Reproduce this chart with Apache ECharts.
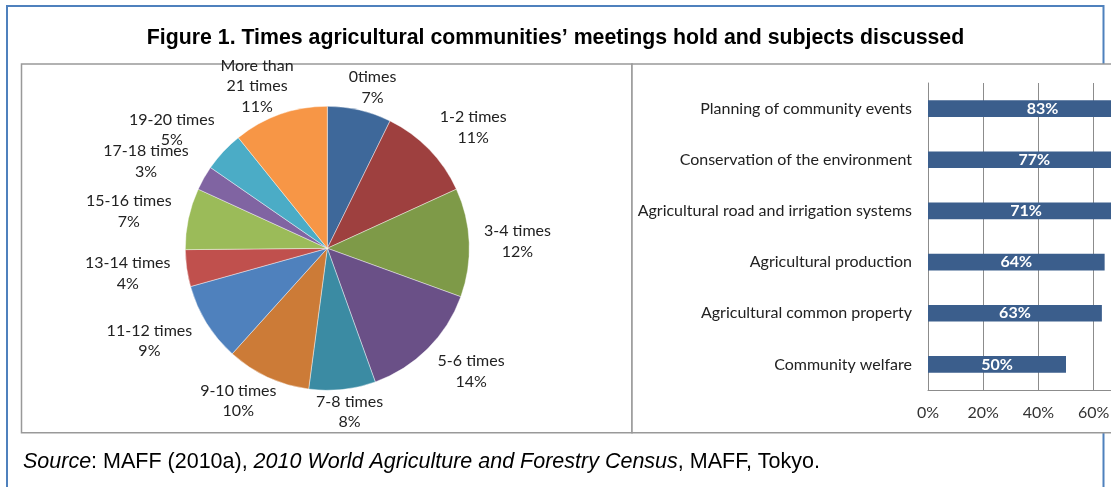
<!DOCTYPE html>
<html>
<head>
<meta charset="utf-8">
<script src="https://cdn.jsdelivr.net/npm/echarts@6/dist/echarts.min.js"></script>
<style>
html,body{margin:0;padding:0;background:#fff;}
#chart{width:1111px;height:487px;}
</style>
</head>
<body>
<div id="chart"></div>
<script>
// ---- data ----
const pieCategories = ['0times', '1-2 times', '3-4 times', '5-6 times', '7-8 times', '9-10 times',
  '11-12 times', '13-14 times', '15-16 times', '17-18 times', '19-20 times', 'More than\n21 times'];
const pieValues = [7.3, 10.9, 12.4, 14.0, 7.6, 9.6, 9.0, 4.2, 7.0, 2.8, 4.6, 10.8];

const barCategories = ['Planning of community events', 'Conservation of the environment',
  'Agricultural road and irrigation systems', 'Agricultural production',
  'Agricultural common property', 'Community welfare'];
const barValues = [83, 77, 71, 64, 63, 50];
const barTicks = [0, 20, 40, 60, 80, 100];

// ---- styles ----
const pieColors = ['#3E689A', '#9E403F', '#7E9A48', '#6A5087', '#3B8BA3', '#CC7B37',
  '#4F81BD', '#C0504D', '#9BBB59', '#8064A2', '#4BACC6', '#F79646'];
const FONT = 'Lato, Carlito, Calibri, sans-serif';
const ARIAL = '"Liberation Sans", Arial, sans-serif';
const PIE_C = [327.3, 248.3], PIE_R = 142, LABEL_GAP = 14;

const total = pieValues.reduce((a, b) => a + b, 0);
const cumBefore = pieValues.map((v, i) => pieValues.slice(0, i).reduce((a, b) => a + b, 0));

const chart = echarts.init(document.getElementById('chart'));
chart.setOption({
  animation: false,
  title: {
    text: 'Figure 1. Times agricultural communities\u2019 meetings hold and subjects discussed',
    left: 'center', top: 23, padding: 5,
    textStyle: {fontFamily: ARIAL, fontWeight: 'bold', fontSize: 21.3, color: '#000'}
  },
  graphic: [
    {type: 'rect', z: -12, shape: {x: 7, y: 6, width: 1096.5, height: 520},
      style: {fill: 'none', stroke: '#4F81BD', lineWidth: 2}},
    {type: 'rect', z: -10, shape: {x: 21.5, y: 64, width: 610.5, height: 368.7},
      style: {fill: '#fff', stroke: '#999', lineWidth: 1.5}},
    {type: 'rect', z: -10, shape: {x: 632, y: 64, width: 600, height: 368.7},
      style: {fill: '#fff', stroke: '#999', lineWidth: 1.5}},
    {type: 'text', z: 3, x: 23, y: 462,
      style: {
        text: '{i|Source}{n|: MAFF (2010a), }{i|2010 World Agriculture and Forestry Census}{n|, MAFF, Tokyo.}',
        verticalAlign: 'middle',
        rich: {
          i: {fontStyle: 'italic', fontSize: 21.5, fontFamily: ARIAL, fill: '#000'},
          n: {fontSize: 21.5, fontFamily: ARIAL, fill: '#000'}
        }
      }}
  ],
  grid: {left: 928, top: 83, bottom: 97, right: -93, containLabel: false, outerBoundsMode: 'none'},
  xAxis: {
    type: 'value', min: barTicks[0], max: barTicks[barTicks.length - 1], interval: barTicks[1] - barTicks[0],
    z: 3,
    axisLine: {show: true, lineStyle: {color: '#8c8c8c', width: 1}},
    axisTick: {show: false},
    splitLine: {show: true, lineStyle: {color: '#8c8c8c', width: 1}},
    axisLabel: {formatter: '{value}%', margin: 15, fontFamily: FONT, fontSize: 16, color: '#333'}
  },
  yAxis: {
    type: 'category', data: barCategories, inverse: true, z: 3,
    axisLine: {show: true, lineStyle: {color: '#8c8c8c', width: 1}},
    axisTick: {show: false},
    axisLabel: {margin: 16, fontFamily: FONT, fontSize: 16, color: '#222'}
  },
  series: [
    {
      type: 'bar', data: barValues, barWidth: 16.6, z: 4,
      itemStyle: {color: '#3B5E8C'},
      label: {show: true, position: 'inside', formatter: '{c}%', color: '#fff',
        fontFamily: FONT, fontWeight: 'bold', fontSize: 16}
    },
    {
      type: 'pie', center: PIE_C, radius: PIE_R, startAngle: 90, clockwise: true,
      avoidLabelOverlap: false,
      data: pieCategories.map((n, i) => ({name: n, value: pieValues[i]})),
      color: pieColors,
      itemStyle: {borderColor: 'rgba(255,255,255,0.7)', borderWidth: 0.6},
      label: {show: true, position: 'outside', fontFamily: FONT, fontSize: 16, color: '#222',
        lineHeight: 20.5, align: 'center',
        formatter: p => p.name + '\n' + Math.round(p.value) + '%'},
      labelLine: {show: false},
      labelLayout: function (params) {
        const i = params.dataIndex;
        const th = (cumBefore[i] + pieValues[i] / 2) / total * Math.PI * 2;
        const s = Math.sin(th), c = Math.cos(th);
        const w = params.labelRect.width, h = params.labelRect.height;
        const vf = 1 - 0.6 * Math.pow(c, 4);
        const ex = 10 * Math.abs(Math.sin(2 * th)) * Math.sign(s);
        return {
          x: PIE_C[0] + (PIE_R + LABEL_GAP) * s + w / 2 * s + ex,
          y: PIE_C[1] - (PIE_R + LABEL_GAP) * c - h / 2 * c * vf,
          align: 'center', verticalAlign: 'middle'
        };
      }
    }
  ]
});
</script>
</body>
</html>
